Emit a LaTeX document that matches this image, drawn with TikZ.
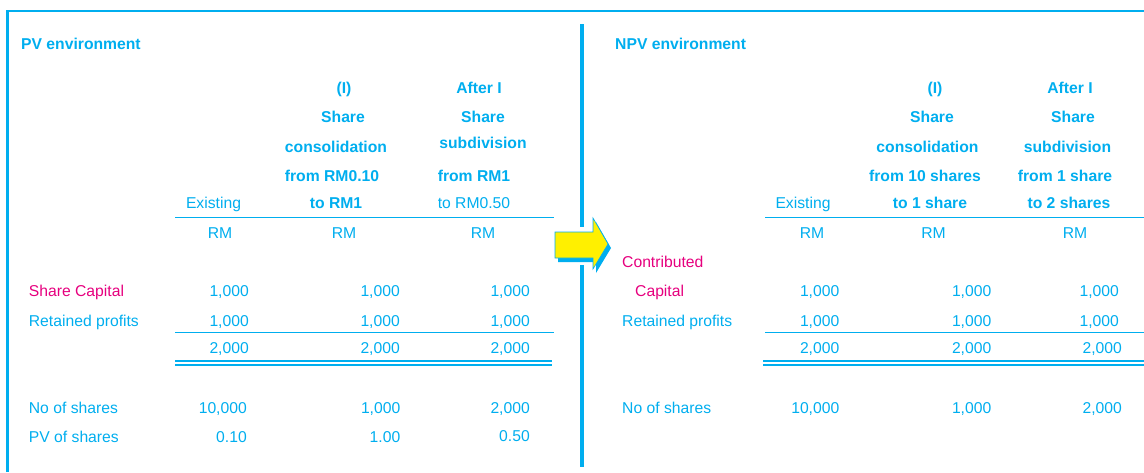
\documentclass[tikz,border=0pt]{standalone}
\usepackage{fontspec}
\setmainfont{Liberation Sans}
\definecolor{envblue}{RGB}{0,174,239}
\definecolor{envpink}{RGB}{230,0,126}
\definecolor{envyellow}{RGB}{255,240,0}

\begin{document}
\begin{tikzpicture}[x=1pt,y=-1pt,
    txt/.style={inner sep=0pt, text=envblue, font=\fontsize{15.7}{18}\selectfont},
    hd/.style={txt, anchor=base, font=\fontsize{15.7}{18}\selectfont\bfseries},
    col/.style={txt, anchor=base},
    lbl/.style={txt, anchor=base west},
    num/.style={txt, anchor=base east},
    pink/.style={text=envpink},
    rule/.style={envblue, line width=1.5pt}]
        \useasboundingbox (0,0) rectangle (1144,472);
        \draw[envblue, line width=2.5pt, line join=miter] (7.5,472) -- (7.5,11) -- (1144,11);
        \draw[envblue, line width=3.5pt] (582,24) -- (582,226.5);
        \draw[envblue, line width=3.5pt] (582,265) -- (582,466.5);

        \fill[envblue, shift={(3,4)}] (555,232) -- (593,232) -- (593,218) -- (608,244) -- (593,269) -- (593,258) -- (555,258) -- cycle;
        \filldraw[fill=envyellow, draw=envblue, line width=0.6pt] (555,232) -- (593,232) -- (593,218) -- (608,244) -- (593,269) -- (593,258) -- (555,258) -- cycle;

        \node[hd, anchor=base west] (pvtitle) at (21,49.5) {PV environment};
        \node[col] (pvex) at (213.5,208.5) {Existing};
        \node[hd] (pvc1) at (344,93.5) {(I)};
        \node[hd] (pvc2) at (343,122.5) {Share};
        \node[hd] (pvc3) at (336,152) {consolidation};
        \node[hd] (pvc4) at (332,181.5) {from RM0.10};
        \node[hd] (pvc5) at (336,208.5) {to RM1};
        \node[hd] (pvs1) at (479,93.5) {After I};
        \node[hd] (pvs2) at (483,122.5) {Share};
        \node[hd] (pvs3) at (483,148.5) {subdivision};
        \node[hd] (pvs4) at (474,181.5) {from RM1};
        \node[col] (pvs5) at (474,208.5) {to RM0.50};
        \node[col] (pvrma) at (220,238) {RM};
        \node[col] (pvrmb) at (344,238) {RM};
        \node[col] (pvrmc) at (483,238) {RM};

        \node[lbl, pink] (pvcap) at (28.7,296.5) {Share Capital};
        \node[lbl] (pvret) at (28.7,326) {Retained profits};
        \node[lbl] (pvno) at (28.7,413.5) {No of shares};
        \node[lbl] (pvpv) at (28.7,442.5) {PV of shares};
        \foreach \x/\n in {249/a,400/b,530/c}{
            \node[num] (pvcap\n) at (\x,296.5) {1,000};
            \node[num] (pvret\n) at (\x,326) {1,000};
            \node[num] (pvtot\n) at (\x,353.5) {2,000};
        }
        \foreach \x/\y/\n/\t/\v in {247/442.5/a/{10,000}/0.10,400.5/442.5/b/{1,000}/1.00,530/441/c/{2,000}/0.50}{
            \node[num] (pvno\n) at (\x,413.5) {\t};
            \node[num] (pvpv\n) at (\x,\y) {\v};
        }
        \draw[rule] (175,217.5) -- (554,217.5);
        \draw[rule] (175,332.5) -- (554,332.5);
        \draw[rule] (175,361) -- (552,361);
        \draw[rule] (175,365) -- (552,365);

        \node[hd, anchor=base west] (npvtitle) at (615,49.5) {NPV environment};
        \node[col] (npvex) at (803,208.5) {Existing};
        \node[hd] (npvc1) at (935,93.5) {(I)};
        \node[hd] (npvc2) at (932,122.5) {Share};
        \node[hd] (npvc3) at (927.5,152) {consolidation};
        \node[hd] (npvc4) at (925,181.5) {from 10 shares};
        \node[hd] (npvc5) at (930,208.5) {to 1 share};
        \node[hd] (npvs1) at (1070,93.5) {After I};
        \node[hd] (npvs2) at (1073,122.5) {Share};
        \node[hd] (npvs3) at (1067.5,152) {subdivision};
        \node[hd] (npvs4) at (1065,181.5) {from 1 share};
        \node[hd] (npvs5) at (1069,208.5) {to 2 shares};
        \node[col] (npvrma) at (812,238) {RM};
        \node[col] (npvrmb) at (933.5,238) {RM};
        \node[col] (npvrmc) at (1075,238) {RM};

        \node[lbl, pink] (npvcon) at (622,267.5) {Contributed};
        \node[lbl, pink] (npvcap) at (635,296.5) {Capital};
        \node[lbl] (npvret) at (622,326) {Retained profits};
        \node[lbl] (npvno) at (622,413.5) {No of shares};
        \foreach \x/\n in {839.5/a,991.5/b,1119/c}{
            \node[num] (npvcap\n) at (\x,296.5) {1,000};
            \node[num] (npvret\n) at (\x,326) {1,000};
        }
        \foreach \x/\n/\t in {839.5/a/{10,000},991.5/b/{1,000},1122/c/{2,000}}{
            \node[num] (npvtot\n) at (\x,353.5) {2,000};
            \node[num] (npvno\n) at (\x,413.5) {\t};
        }
        \draw[rule] (765,217.5) -- (1144,217.5);
        \draw[rule] (765,332.5) -- (1144,332.5);
        \draw[rule] (763,361) -- (1144,361);
        \draw[rule] (763,365) -- (1144,365);
    \end{tikzpicture}
\end{document}
